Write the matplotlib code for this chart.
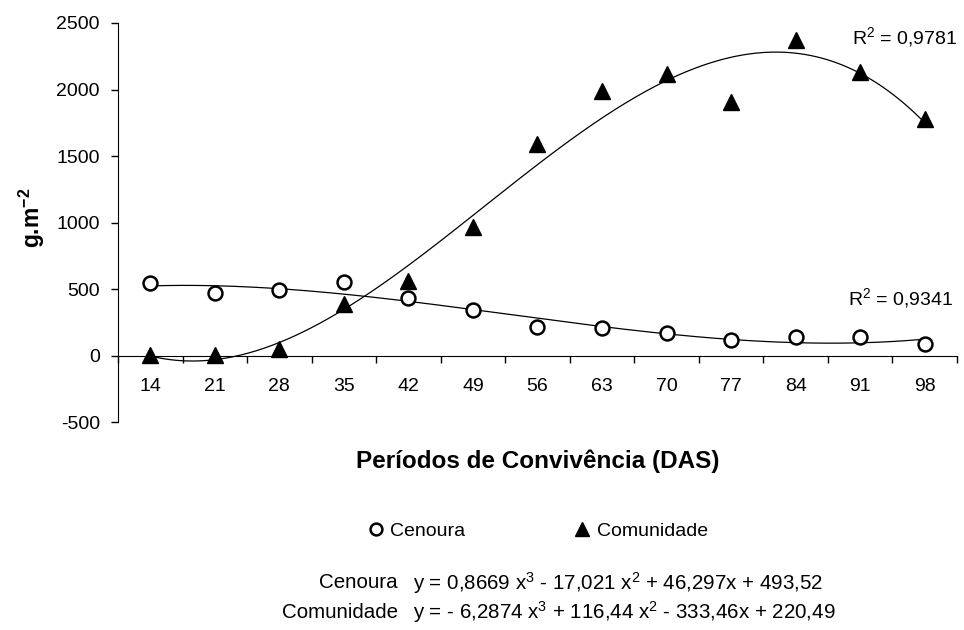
import numpy as np
import matplotlib.pyplot as plt
from matplotlib.lines import Line2D

plt.rcParams['font.family'] = ['Liberation Sans', 'DejaVu Sans']
plt.rcParams['mathtext.default'] = 'regular'
plt.rcParams['axes.unicode_minus'] = False

# days of coexistence (DAS), plotted as categories 1..13
dias = [14, 21, 28, 35, 42, 49, 56, 63, 70, 77, 84, 91, 98]
cenoura = [547, 469, 496, 556, 434, 346, 213, 208, 168, 120, 143, 138, 90]
comunidade = [3, 8, 48, 389, 559, 970, 1592, 1989, 2120, 1904, 2370, 2132, 1776]

# cubic trendline coefficients (x^3, x^2, x, const)
coef_cenoura = [0.8669, -17.021, 46.297, 493.52]
coef_comunidade = [-6.2874, 116.44, -333.46, 220.49]
r2_cenoura = 0.9341
r2_comunidade = 0.9781


def num(v):
    return str(abs(v)).replace('.', ',')


def equacao(c):
    s = 'y = ' + ('- ' if c[0] < 0 else '') + num(c[0]) + ' x$^3$'
    s += (' - ' if c[1] < 0 else ' + ') + num(c[1]) + ' x$^2$'
    s += (' - ' if c[2] < 0 else ' + ') + num(c[2]) + 'x'
    s += (' - ' if c[3] < 0 else ' + ') + num(c[3])
    return s


x = np.arange(1, len(dias) + 1)
xs = np.linspace(1, len(dias), 300)

fig = plt.figure(figsize=(9.64, 6.3), dpi=100)
ax = fig.add_axes([0.1224, 0.330, 0.8703, 0.6335])

ax.plot(xs, np.polyval(coef_cenoura, xs), color='black', lw=0.9)
ax.plot(xs, np.polyval(coef_comunidade, xs), color='black', lw=0.9)
ax.plot(x, cenoura, 'o', ms=10, mfc='white', mec='black', mew=1.8, ls='none')
ax.plot(x, comunidade, '^', ms=11, color='black', ls='none')

ax.set_xlim(0.5, len(dias) + 0.5)
ax.set_ylim(-500, 2500)
ax.set_yticks(range(-500, 2501, 500))

# ticks between categories, labels at category centres
ax.set_xticks(np.arange(0.5, len(dias) + 1, 1))
ax.set_xticklabels([])
ax.set_xticks(x, minor=True)
ax.set_xticklabels([str(d) for d in dias], minor=True)
ax.tick_params(axis='x', which='major', direction='out', length=5, width=1)
ax.tick_params(axis='x', which='minor', length=0, pad=16, labelsize=14)
ax.tick_params(axis='y', direction='out', length=5, width=1, pad=8, labelsize=14)

ax.spines['top'].set_visible(False)
ax.spines['right'].set_visible(False)
ax.spines['bottom'].set_position(('data', 0))

ax.text(13.5, 2397, 'R$^2$ = ' + num(r2_comunidade), ha='right', va='center',
        fontsize=14, clip_on=False)
ax.text(13.44, 434, 'R$^2$ = ' + num(r2_cenoura), ha='right', va='center',
        fontsize=14, clip_on=False)

fig.text(0.033, 0.655, 'g.m$^{-2}$', rotation=90, ha='center', va='center',
         fontsize=16.5, fontweight='bold')
fig.text(0.558, 0.268, 'Períodos de Convivência (DAS)', ha='center', va='center',
         fontsize=17.5, fontweight='bold')

# legend keys
ly = 1 - 532 / 630
my = 1 - 529 / 630
fig.add_artist(Line2D([376 / 964], [my], marker='o', ls='none', ms=8.5, mfc='white',
                      mec='black', mew=1.8))
fig.add_artist(Line2D([582 / 964], [my], marker='^', ls='none', ms=10, color='black'))
fig.text(390 / 964, ly, 'Cenoura', ha='left', va='center', fontsize=14)
fig.text(597 / 964, ly, 'Comunidade', ha='left', va='center', fontsize=14)

# trendline equations
fig.text(398 / 964, 1 - 583 / 630, 'Cenoura', ha='right', va='center', fontsize=14.8)
fig.text(413 / 964, 1 - 583 / 630, equacao(coef_cenoura), ha='left', va='center', fontsize=14.8)
fig.text(398 / 964, 1 - 612 / 630, 'Comunidade', ha='right', va='center', fontsize=14.8)
fig.text(413 / 964, 1 - 612 / 630, equacao(coef_comunidade), ha='left', va='center', fontsize=14.8)

fig.savefig('out.png', dpi=100)
